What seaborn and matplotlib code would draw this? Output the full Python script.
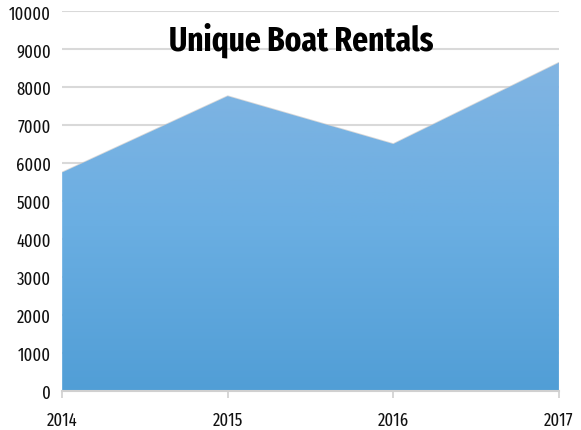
import numpy as np
import pandas as pd
import matplotlib
matplotlib.use("Agg")
import matplotlib.pyplot as plt
import seaborn as sns
from matplotlib.colors import LinearSegmentedColormap

years = [2014, 2015, 2016, 2017]
rentals = [5760, 7770, 6510, 8650]
y_ticks = [0, 1000, 2000, 3000, 4000, 5000, 6000, 7000, 8000, 9000, 10000]
chart_title = "Unique Boat Rentals"

df = pd.DataFrame({"year": years, "rentals": rentals})

sns.set_style("white")
plt.rcParams["font.family"] = ["Fira Sans Extra Condensed", "DejaVu Sans"]

fig = plt.figure(figsize=(5.81, 4.31), dpi=100)
ax = fig.add_axes([0.107, 0.09, 0.855, 0.881])

# gridlines
for t in y_ticks[1:]:
    ax.axhline(t, color="#d9d9d9", lw=1.5, zorder=0)

# area with vertical gradient
poly = ax.fill_between(df["year"], df["rentals"], 0, color="none", lw=0, zorder=2)
cmap = LinearSegmentedColormap.from_list("blues", ["#519ed6", "#6aaee2", "#82b5e2"])
grad = np.linspace(0, 1, 256).reshape(-1, 1)
img = ax.imshow(grad, cmap=cmap, aspect="auto", origin="lower",
                extent=[years[0], years[-1], 0, max(rentals)], zorder=2)
img.set_clip_path(poly.get_paths()[0], transform=ax.transData)

# faint shadow along the top edge
sns.lineplot(data=df, x="year", y="rentals", color="#c8c8c8", lw=1.2,
             alpha=0.7, ax=ax, zorder=1)

ax.set_xlim(years[0], years[-1])
ax.set_ylim(0, 10000)
ax.set_xticks(years)
ax.set_yticks(y_ticks)
ax.set_xlabel("")
ax.set_ylabel("")

for s in ["top", "right", "left"]:
    ax.spines[s].set_visible(False)
ax.spines["bottom"].set_color("#d0d0d0")
ax.spines["bottom"].set_linewidth(1.5)
ax.spines["bottom"].set_zorder(3)
ax.tick_params(axis="x", length=5, width=1.2, color="#d0d0d0", pad=9,
               labelsize=13, labelcolor="#111111", direction="out", bottom=True)
ax.tick_params(axis="y", length=0, pad=8, labelsize=13, labelcolor="#111111")

ax.text(0.482, 0.90, chart_title, transform=ax.transAxes, ha="center", va="baseline",
        fontsize=24.5, fontweight="bold", color="black", zorder=5)

fig.savefig("out.png", dpi=100)
